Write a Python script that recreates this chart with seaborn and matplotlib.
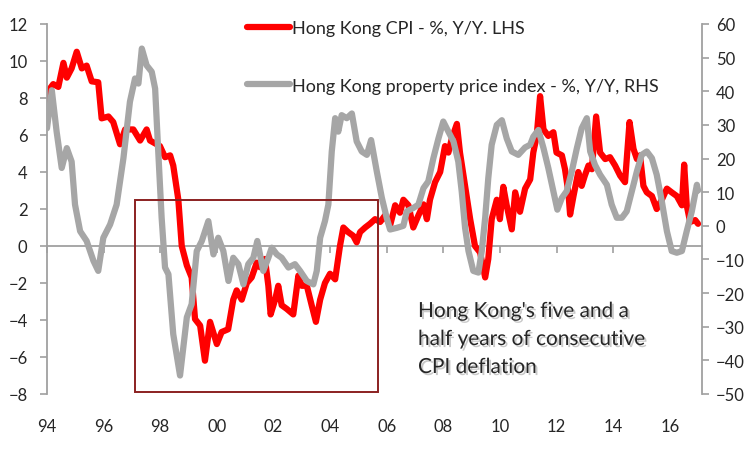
import numpy as np
import pandas as pd
import seaborn as sns
import matplotlib.pyplot as plt
import matplotlib.patheffects as pe
from matplotlib.patches import Rectangle

# Hong Kong CPI, % y/y (left axis)
cpi_dates = [1994.0, 1994.05, 1994.22, 1994.4, 1994.58, 1994.7, 1994.87, 1995.05, 1995.23, 1995.4,
             1995.58, 1995.81, 1995.93, 1996.17, 1996.34, 1996.58, 1996.76, 1997.05, 1997.29, 1997.52,
             1997.64, 1997.99, 1998.17, 1998.35, 1998.46, 1998.64, 1998.76, 1998.94, 1999.11, 1999.23,
             1999.41, 1999.58, 1999.76, 2000.0, 2000.17, 2000.4, 2000.58, 2000.7, 2000.88, 2001.06,
             2001.23, 2001.41, 2001.53, 2001.7, 2001.82, 2001.9, 2002.06, 2002.17, 2002.29, 2002.47,
             2002.7, 2002.88, 2003.0, 2003.18, 2003.35, 2003.5, 2003.65, 2003.82, 2004.0, 2004.18,
             2004.35, 2004.47, 2004.64, 2004.82, 2004.94, 2005.06, 2005.24, 2005.41, 2005.59, 2005.77,
             2005.94, 2006.12, 2006.3, 2006.47, 2006.59, 2006.77, 2006.94, 2007.12, 2007.3, 2007.42,
             2007.53, 2007.71, 2007.89, 2008.06, 2008.18, 2008.3, 2008.48, 2008.59, 2008.77, 2008.95,
             2009.12, 2009.3, 2009.48, 2009.59, 2009.71, 2009.89, 2010.0, 2010.12, 2010.24, 2010.42,
             2010.54, 2010.71, 2010.89, 2011.07, 2011.18, 2011.3, 2011.42, 2011.54, 2011.71, 2011.89,
             2012.0, 2012.19, 2012.3, 2012.42, 2012.48, 2012.6, 2012.77, 2012.89, 2013.0, 2013.13,
             2013.25, 2013.4, 2013.54, 2013.72, 2013.89, 2014.07, 2014.25, 2014.42, 2014.58, 2014.72,
             2014.84, 2014.95, 2015.07, 2015.19, 2015.37, 2015.54, 2015.72, 2015.9, 2016.07, 2016.25,
             2016.43, 2016.51, 2016.6, 2016.72, 2016.9, 2017.0]
cpi_values = [7.3, 8.4, 8.75, 8.6, 9.9, 9.1, 9.6, 10.5, 9.6, 9.75,
              8.9, 8.85, 6.9, 7.0, 6.7, 5.5, 6.3, 6.3, 5.7, 6.3,
              5.7, 5.4, 4.8, 4.9, 4.35, 2.5, 0.0, -1.05, -1.7, -3.95,
              -4.3, -6.2, -4.1, -5.3, -4.65, -4.5, -2.9, -2.4, -2.9, -2.0,
              -1.7, -0.9, -1.15, -0.7, -2.15, -3.7, -2.9, -2.15, -3.2, -3.4,
              -3.7, -1.6, -2.15, -2.15, -3.2, -4.1, -2.9, -2.0, -1.5, -1.8,
              0.0, 1.0, 0.75, 0.55, 0.2, 0.75, 1.0, 1.2, 1.45, 1.3,
              1.65, 1.1, 2.2, 1.8, 2.5, 2.2, 1.0, 1.65, 2.25, 1.45,
              2.5, 3.45, 4.0, 5.4, 5.05, 5.8, 6.6, 5.05, 3.25, 1.45,
              0.0, -0.35, -1.7, -0.7, 1.45, 2.5, 1.45, 3.2, 2.2, 0.9,
              2.9, 1.85, 3.1, 3.6, 5.05, 5.95, 8.1, 6.3, 5.95, 6.15,
              5.05, 4.9, 4.15, 2.9, 1.7, 2.7, 4.0, 3.25, 3.8, 4.35,
              4.15, 7.0, 5.05, 4.7, 4.8, 4.35, 3.8, 3.45, 6.7, 5.25,
              4.7, 4.9, 3.25, 2.9, 2.7, 2.0, 2.5, 3.1, 2.9, 2.7,
              2.2, 4.4, 2.2, 1.3, 1.4, 1.2]

# Hong Kong property price index, % y/y (right axis)
prop_dates = [1994.0, 1994.17, 1994.34, 1994.52, 1994.7, 1994.87, 1994.99, 1995.17, 1995.4, 1995.64,
              1995.81, 1995.99, 1996.23, 1996.46, 1996.7, 1996.93, 1997.11, 1997.23, 1997.35, 1997.52,
              1997.7, 1997.82, 1997.93, 1998.05, 1998.17, 1998.29, 1998.46, 1998.7, 1998.94, 1999.11,
              1999.29, 1999.47, 1999.7, 1999.88, 2000.05, 2000.23, 2000.41, 2000.58, 2000.76, 2000.94,
              2001.11, 2001.29, 2001.43, 2001.64, 2001.82, 2001.94, 2002.12, 2002.29, 2002.53, 2002.76,
              2002.94, 2003.18, 2003.41, 2003.53, 2003.65, 2003.82, 2003.94, 2004.06, 2004.18, 2004.29,
              2004.41, 2004.59, 2004.77, 2004.94, 2005.12, 2005.3, 2005.45, 2005.65, 2005.83, 2006.0,
              2006.12, 2006.36, 2006.59, 2006.71, 2006.94, 2007.12, 2007.3, 2007.47, 2007.65, 2007.83,
              2008.0, 2008.18, 2008.36, 2008.53, 2008.65, 2008.77, 2008.89, 2009.06, 2009.24, 2009.36,
              2009.48, 2009.59, 2009.71, 2009.89, 2010.07, 2010.24, 2010.42, 2010.65, 2010.89, 2011.07,
              2011.18, 2011.36, 2011.54, 2011.71, 2011.89, 2012.03, 2012.19, 2012.36, 2012.54, 2012.72,
              2012.89, 2013.07, 2013.19, 2013.36, 2013.54, 2013.78, 2013.95, 2014.13, 2014.31, 2014.48,
              2014.66, 2014.84, 2015.01, 2015.19, 2015.37, 2015.54, 2015.72, 2015.9, 2016.07, 2016.25,
              2016.43, 2016.6, 2016.78, 2016.96, 2017.0]
prop_values = [29, 40.3, 28, 17.2, 23.1, 19.1, 6.3, -1.6, -4.5, -10.4,
               -13.4, -3.55, 0.4, 6.3, 20.1, 36.9, 43.8, 42.3, 52.7, 47.7,
               45.8, 40.8, 22.1, 2.4, -12.4, -14.4, -32.2, -44.5, -27.2, -23.3,
               -7.5, -4.5, 1.4, -8.5, -3.55, -7.5, -16.4, -9.5, -11.4, -17.4,
               -11.4, -9.5, -4.5, -13.4, -9.5, -6.5, -8.5, -9.5, -12.4, -11.4,
               -13.4, -16.4, -17.4, -13.4, -3.55, 1.4, 6.3, 22.1, 32, 28,
               32.9, 32, 33.4, 25.1, 22.1, 21.1, 25.5, 16.2, 8.3, 2.4,
               -1.1, -0.6, 0, 4.3, 5.3, 6.3, 11.2, 13.2, 20.1, 26,
               31, 28, 25.1, 19.1, 10.3, -0.6, -7.5, -13.4, -13.9, -7.5,
               2.4, 14.2, 24.1, 30, 31.4, 26, 22.1, 21.1, 23.3, 24.1,
               26.5, 28.5, 23.1, 17.2, 10.3, 4.8, 8.3, 10.3, 16.2, 23.1,
               29, 32, 22.1, 18.1, 15.2, 12.2, 6.3, 2.4, 2.4, 4.3,
               10.3, 16.2, 21.1, 22.1, 20.1, 15.2, 7.3, -1.6, -7.5, -8,
               -7.5, -1.6, 4.3, 12.2, 10.5]

year_ticks = list(range(1994, 2017, 2))
year_labels = ["94", "96", "98", "00", "02", "04", "06", "08", "10", "12", "14", "16"]

cpi_label = "Hong Kong CPI - %, Y/Y. LHS"
prop_label = "Hong Kong property price index - %, Y/Y, RHS"
note = "Hong Kong's five and a\nhalf years of consecutive\nCPI deflation"

sns.set_theme(style="white")
plt.rcParams["font.family"] = ["Lato", "DejaVu Sans"]

RED = "#ff0000"
GREY = "#a6a6a6"
AXC = "#a0a0a0"
TXT = "#262626"

fig = plt.figure(figsize=(7.52, 4.52), dpi=100)
ax = fig.add_axes([47 / 752, 1 - 395 / 452, (702 - 47) / 752, (395 - 25) / 452])
ax2 = ax.twinx()

cpi_df = pd.DataFrame({"date": cpi_dates, "value": cpi_values})
prop_df = pd.DataFrame({"date": prop_dates, "value": prop_values})

sns.lineplot(data=cpi_df, x="date", y="value", ax=ax, color=RED, linewidth=4.5,
             label=cpi_label, legend=False)
sns.lineplot(data=prop_df, x="date", y="value", ax=ax2, color=GREY, linewidth=4.5,
             label=prop_label, legend=False)

ax.set_xlim(1994.0, 2017.14)
ax.set_ylim(-8, 12)
ax2.set_ylim(-50, 60)
ax.set_yticks(range(-8, 13, 2))
ax2.set_yticks(range(-50, 61, 10))
ax.set_xticks(year_ticks)
ax.set_xticklabels(year_labels)
for a in (ax, ax2):
    a.set_xlabel("")
    a.set_ylabel("")
    for s in a.spines.values():
        s.set_visible(False)
    a.grid(False)

ax.spines["left"].set_visible(True)
ax.spines["left"].set_color(AXC)
ax.spines["left"].set_linewidth(1.3)
ax2.spines["right"].set_visible(True)
ax2.spines["right"].set_color(AXC)
ax2.spines["right"].set_linewidth(1.3)

ax.tick_params(axis="y", left=True, direction="out", length=5, width=1.2, color=AXC,
               labelsize=12, labelcolor=TXT, pad=9)
ax2.tick_params(axis="y", right=True, direction="out", length=5, width=1.2, color=AXC,
                labelsize=12, labelcolor=TXT, pad=5)
ax.tick_params(axis="x", bottom=False, labelsize=12, labelcolor=TXT, pad=11)

# x axis line crossing at zero of the left axis
zero_axis = ax.secondary_xaxis(0.4)
zero_axis.set_xticks(year_ticks)
zero_axis.tick_params(axis="x", direction="out", length=5, width=1.2, color=AXC,
                      labelbottom=False)
zero_axis.spines["bottom"].set_color(AXC)
zero_axis.spines["bottom"].set_linewidth(1.3)

# box marking the deflation period
ax2.add_patch(Rectangle((1997.1, -7.9), 8.6, 10.4, transform=ax.transData,
                        fill=False, edgecolor="#8b2020", linewidth=1.4, zorder=5))

ax2.text(418 / 752, 1 - 302 / 452, note, transform=fig.transFigure, fontsize=15,
         color=TXT, ha="left", va="top", linespacing=1.5,
         path_effects=[pe.withSimplePatchShadow(offset=(1.5, -1.5), shadow_rgbFace="#888888",
                                                alpha=0.45)])

h1 = ax.get_lines()[0]
h2 = ax2.get_lines()[0]
fig.legend([h1, h2], [cpi_label, prop_label], loc="upper left",
           bbox_to_anchor=(247 / 752, 1 - 21 / 452), frameon=False, fontsize=13,
           labelspacing=2.3, handlelength=2.4, handletextpad=0.1, borderpad=0,
           borderaxespad=0, labelcolor=TXT)

fig.savefig("out.png", dpi=100)
